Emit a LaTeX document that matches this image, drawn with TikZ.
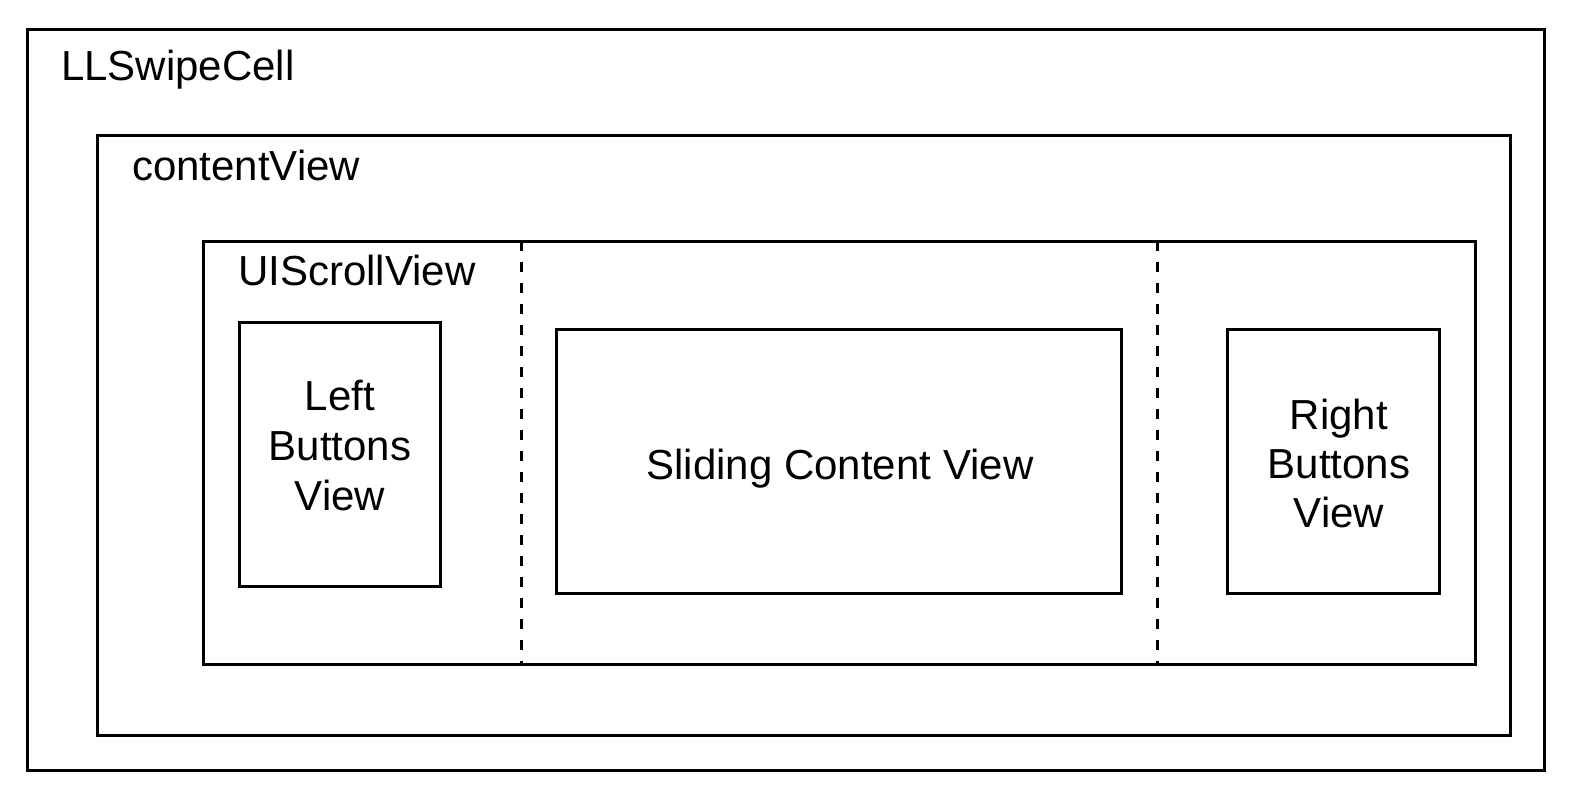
\documentclass[tikz,border=0pt]{standalone}
\usepackage{fontspec}
\setmainfont{Liberation Sans}
\begin{document}
\begin{tikzpicture}[x=1pt,y=-1pt,
  frame/.style={draw=black,line width=3pt,fill=none},
  divider/.style={draw=black,line width=3pt,dash pattern=on 10pt off 11pt},
  lbl/.style={anchor=base west,inner sep=0pt,font=\fontsize{42}{50}\selectfont},
  clbl/.style={anchor=base,inner sep=0pt,font=\fontsize{42}{50}\selectfont}]
\useasboundingbox (0,0) rectangle (1572,796);
% boxes
\draw[frame] (27.5,29.5) rectangle (1544.5,770.5);
\draw[frame] (97.5,135) rectangle (1510,735);
\draw[frame] (203.5,241) rectangle (1475,664);
\draw[frame] (239,322.5) rectangle (440,586);
\draw[frame] (556.5,329) rectangle (1121,593.5);
\draw[frame] (1227,329) rectangle (1439,593.5);
% dashed dividers
\coordinate (d1t) at (521.5,241);
\coordinate (d1b) at (521.5,664);
\coordinate (d2t) at (1157.5,241);
\coordinate (d2b) at (1157.5,664);
\draw[divider] (d1t) -- (d1b);
\draw[divider] (d2t) -- (d2b);
% labels
\node[lbl] (cell) at (61,80) {LLSwipeCell};
\node[lbl] (cv) at (132,180) {contentView};
\node[lbl] (sv) at (238,285) {UIScrollView};
\node[clbl] (l1) at (340,410) {Left};
\node[clbl] (l2) at (340,460) {Buttons};
\node[clbl] (l3) at (340,510) {View};
\node[clbl] (sc) at (840,479) {Sliding Content View};
\node[clbl] (r1) at (1339,429) {Right};
\node[clbl] (r2) at (1339,478) {Buttons};
\node[clbl] (r3) at (1339,527) {View};
\end{tikzpicture}
\end{document}
